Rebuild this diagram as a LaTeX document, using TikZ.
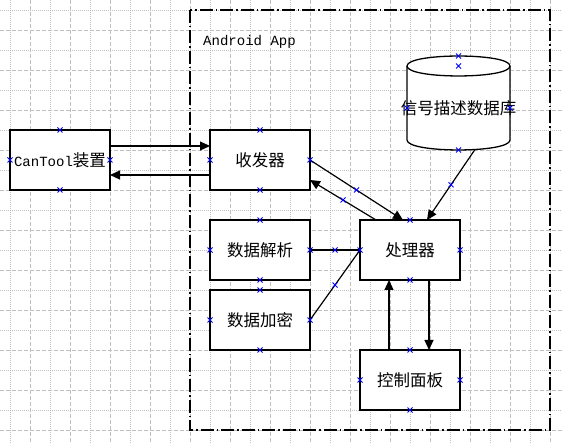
\documentclass[tikz,border=0pt]{standalone}
\usepackage{fontspec}
\setmainfont{Liberation Mono}[Scale=0.85]
\newfontfamily\zh{Noto Sans CJK SC}
\usetikzlibrary{shapes,arrows.meta,positioning,calc}

\tikzset{
  box/.style={draw, fill=white, line width=1.3pt, rectangle, minimum width=100pt, minimum height=60pt, inner sep=0pt, outer sep=0pt},
  link/.style={line width=1.2pt},
  xmk/.style={cross out, draw=blue, line width=0.8pt, minimum size=5pt, inner sep=0pt, outer sep=0pt},
  gridfine/.style={gray!50, line width=0.6pt, dash pattern=on 0.7pt off 1.3pt},
  gridcoarse/.style={gray!50, line width=0.6pt, dash pattern=on 4pt off 2pt},
  appframe/.style={line width=1.4pt, dash pattern=on 13pt off 3pt on 1.5pt off 3pt}
}

\begin{document}
\begin{tikzpicture}[x=1pt, y=-1pt, >={Triangle[length=10pt, width=9pt]}, font=\fontsize{16.5pt}{20pt}\selectfont]
\useasboundingbox (0,0) rectangle (562,443);

% 背景网格
\foreach \x in {10,50,...,530} \draw[gridfine] (\x,0) -- (\x,443);
\foreach \x in {30,70,...,550} \draw[gridcoarse] (\x,0) -- (\x,443);
\foreach \y in {10,50,...,410} \draw[gridfine] (0,\y) -- (562,\y);
\foreach \y in {30,70,...,430} \draw[gridcoarse] (0,\y) -- (562,\y);

% Android App 边框
\draw[appframe] (190,10) rectangle (550,430);
\node[anchor=west, inner sep=0pt] (applabel) at (203,42) {Android App};

% 模块
\node[box] (cantool) at (60,160) {CanTool{\zh 装置}};
\node[box, right=100pt of cantool] (trx) {\zh 收发器};
\node[box, below=30pt of trx] (parse) {\zh 数据解析};
\node[box, below=10pt of parse] (enc) {\zh 数据加密};
\node[box, right=50pt of parse] (proc) {\zh 处理器};
\node[box, below=70pt of proc] (panel) {\zh 控制面板};

% 信号描述数据库
\draw[line width=1.3pt, fill=white] (407,66) -- (407,140) .. controls (407,153.3) and (510,153.3) .. (510,140)
  -- (510,66) .. controls (510,52.7) and (407,52.7) .. (407,66) -- cycle;
\draw[line width=1.3pt] (407,66) .. controls (407,79.3) and (510,79.3) .. (510,66);
\node[inner sep=0pt] (db) at (458.5,108) {\zh 信号描述数据库};
\coordinate (dbout) at (475,149.5);

% 连接
\draw[link, ->] ([yshift=14pt]cantool.east) -- ([yshift=14pt]trx.west);
\draw[link, ->] ([yshift=-15pt]trx.west) -- ([yshift=-15pt]cantool.east);
\draw[link, ->] (trx.east) -- node[xmk, midway] (m-trxproc) {} ([xshift=-7pt]proc.north);
\draw[link, ->] ([xshift=-34pt]proc.north) -- node[xmk, midway] (m-proctrx) {} ([yshift=-20pt]trx.east);
\draw[link, ->] (dbout) -- node[xmk, midway] (m-dbproc) {} ([xshift=17pt]proc.north);
\draw[link] (parse.east) -- node[xmk, midway] (m-parseproc) {} (proc.west);
\draw[link] (enc.east) -- node[xmk, midway] (m-encproc) {} (proc.west);
\draw[link, ->] ([xshift=-21pt]panel.north) -- ([xshift=-21pt]proc.south);
\draw[link, ->] ([xshift=19pt]proc.south) -- ([xshift=19pt]panel.north);

% 连接点
\foreach \n in {cantool,trx,parse,enc,proc,panel}
  \foreach \a in {north,south,east,west}
    \node[xmk] (\n-\a) at (\n.\a) {};
\node[xmk] (db-top) at (458.5,56) {};
\node[xmk] (db-mid) at (458.5,66) {};
\node[xmk] (db-left) at (407,108) {};
\node[xmk] (db-right) at (510,108) {};
\node[xmk] (db-bottom) at (458.5,150) {};
\end{tikzpicture}
\end{document}
